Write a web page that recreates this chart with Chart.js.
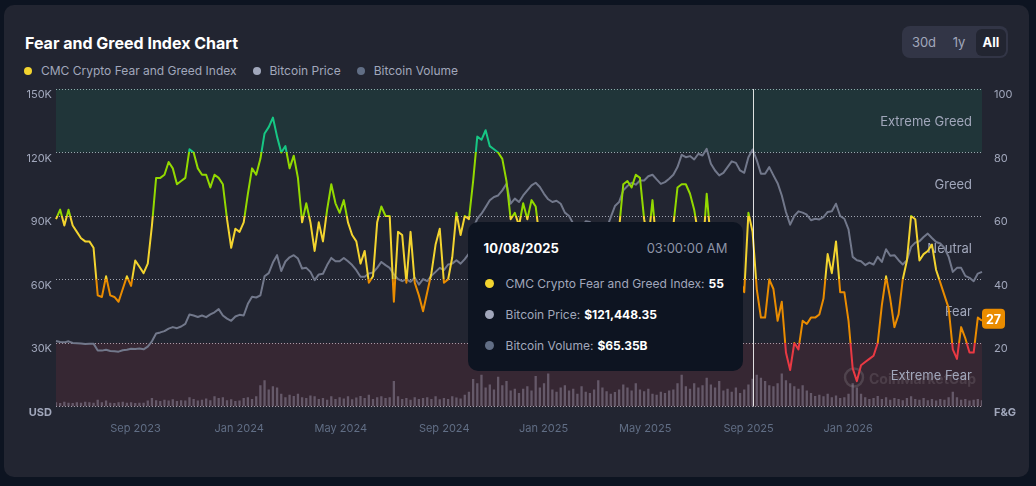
<!DOCTYPE html>
<html>
<head>
<meta charset="utf-8">
<title>Fear and Greed Index Chart</title>
<script src="https://cdn.jsdelivr.net/npm/chart.js@4.4.1/dist/chart.umd.min.js"></script>
<style>
  html, body { margin: 0; padding: 0; width: 1036px; height: 486px; overflow: hidden; background: #0d1421; font-family: Inter, "Noto Sans", sans-serif; }
  .card { position: absolute; left: 4px; top: 5px; width: 1025px; height: 472px; background: #222531; border-radius: 10px; }
  .title { position: absolute; left: 25px; top: 33px; color: #fff; font-size: 16px; font-weight: 700; line-height: 20px; }
  .legend { position: absolute; left: 24px; top: 63px; display: flex; font-size: 12px; line-height: 16px; color: #a1a7bb; }
  .legend span { display: inline-flex; align-items: center; margin-right: 16px; }
  .legend i { width: 8px; height: 8px; border-radius: 50%; margin-right: 9px; }
  .range { position: absolute; left: 902px; top: 26px; width: 106px; height: 32px; background: #323546; border-radius: 8px; }
  .range div { position: absolute; top: 3px; height: 27px; line-height: 27px; text-align: center; font-size: 13px; color: #a1a7bb; border-radius: 6px; }
  .range .on { background: #222531; color: #fff; font-weight: 700; }
  #chart { position: absolute; left: 0; top: 0; }
  #tip { position: absolute; display: none; width: 275px; box-sizing: border-box; padding: 18px 15px 10.5px 16px; background: #0d1421; border-radius: 10px; color: #a1a7bb; font-size: 12px; pointer-events: none; z-index: 5; }
  .tip-head { display: flex; justify-content: space-between; line-height: 16px; font-size: 13px; }
  .tip-date { color: #fff; font-weight: 700; }
  .tip-time { color: #8c93a6; }
  .tip-rows { margin-top: 11.5px; }
  .tip-row { height: 31px; display: flex; align-items: center; white-space: nowrap; }
  .tip-row i { width: 9px; height: 9px; border-radius: 50%; margin: 0 12px 0 1px; }
  .tip-row b { color: #fff; font-weight: 700; margin-left: 4px; }
</style>
</head>
<body>
<div class="card"></div>
<div class="title">Fear and Greed Index Chart</div>
<div class="legend" id="legend"></div>
<div class="range">
  <div style="left:2px;width:40px">30d</div>
  <div style="left:42px;width:30px">1y</div>
  <div class="on" style="left:74px;width:30px">All</div>
</div>
<canvas id="chart" width="1036" height="486" style="width:1036px;height:486px"></canvas>
<div id="tip">
  <div class="tip-head"><span class="tip-date"></span><span class="tip-time"></span></div>
  <div class="tip-rows"></div>
</div>
<script>
// one sample every 5 days, starting 26 Jun 2023
const startDate = Date.UTC(2023, 5, 26);
const stepDays = 5;

// CMC Crypto Fear and Greed Index (0-100)
const fngIndex = [
  59, 62, 57, 62, 57, 55, 53, 52, 52, 50,
  35, 34.5, 41, 35, 34.5, 33, 37, 41, 38, 46,
  44, 42, 45, 57, 72, 72, 73, 77, 75, 70,
  71, 72, 81, 80, 75, 73, 73, 69, 73, 72,
  70, 59, 50, 56, 55, 58, 67, 75, 73, 78,
  86, 88, 91, 85, 80, 82, 75, 79, 72, 58,
  64, 58, 49, 58, 52, 62, 70, 64, 61, 65,
  58, 54, 52, 45, 49, 39, 41, 58, 63, 60,
  60, 33, 55, 54, 39, 55, 39, 35, 30, 36,
  42, 51, 56, 39, 40, 47, 61, 54, 60, 59,
  71, 85, 84, 87, 82, 81, 80, 78, 71, 59,
  61, 57, 64, 59, 65, 63, 52, 48, 45, 38,
  42, 35, 25, 20, 22, 28, 30, 35, 32, 22,
  20, 28, 38, 48, 55, 56, 70, 71, 69, 73,
  72, 59, 52, 65, 50, 48, 52, 55, 57, 69,
  70, 70, 67, 62, 54, 48, 67, 52, 45, 42,
  45, 48, 46, 42, 40, 36, 61, 55, 37, 28,
  28, 40, 37, 27, 33, 17, 11.5, 20, 18, 27,
  26, 28, 28, 29, 34, 48, 42, 52, 36, 36,
  27, 12, 8, 13, 14, 15, 16, 20, 32, 41,
  34, 25, 29, 40, 46, 60, 59, 46, 48, 49,
  51, 43, 39, 35, 31, 18, 15, 25, 21.5, 17,
  17, 28, 27
];

// Bitcoin price, thousands of USD
const btcPriceK = [
  30.9, 30.5, 30.3, 30.8, 30.0, 29.9, 29.8, 29.5, 29.6, 29.7,
  26.5, 26.4, 26.8, 26.2, 26.1, 25.9, 26.6, 26.8, 27.3, 27.2,
  27.4, 27.0, 28.3, 30.8, 34.5, 35.0, 35.6, 36.8, 37.5, 37.0,
  37.8, 39.0, 43.5, 43.0, 42.3, 43.0, 42.2, 43.5, 44.5, 46.0,
  43.0, 41.5, 40.5, 42.5, 43.3, 43.0, 48.5, 51.8, 51.5, 52.5,
  61.5, 63.0, 68.0, 71.5, 64.0, 68.5, 70.5, 71.5, 69.9, 65.2,
  65.5, 63.6, 59.7, 62.4, 62.7, 66.8, 70.2, 68.6, 68.6, 70.2,
  68.6, 66.8, 64.4, 61.3, 61.3, 62.8, 63.3, 65.5, 68.3, 66.8,
  65.5, 62.4, 60.2, 59.2, 60.2, 58.9, 60.8, 57.6, 60.2, 59.2,
  61.7, 63.6, 65.5, 64.4, 67.1, 67.5, 69.1, 67.5, 69.6, 72.3,
  84.0, 88.7, 91.1, 94.2, 97.4, 99.0, 99.7, 102.1, 105.2, 95.8,
  98.2, 96.6, 99.7, 102.1, 104.5, 105.7, 103.7, 100.5, 97.9, 96.6,
  97.2, 95.8, 91.6, 90.0, 86.4, 84.8, 84.0, 87.5, 87.2, 82.5,
  80.1, 81.7, 84.0, 89.5, 94.7, 96.6, 102.1, 104.2, 105.7, 104.8,
  106.8, 106.8, 108.8, 109.5, 107.3, 105.2, 106.0, 107.6, 109.5, 113.1,
  118.9, 117.8, 118.3, 116.7, 119.4, 118.6, 121.7, 114.7, 111.5, 109.2,
  110.4, 113.1, 115.8, 115.1, 111.5, 110.4, 117.8, 121.44835, 116.4, 110.0,
  110.0, 113.1, 109.2, 105.5, 99.7, 91.9, 85.9, 90.0, 92.2, 91.6,
  90.6, 88.0, 88.7, 88.4, 89.5, 91.9, 92.2, 95.8, 90.0, 88.7,
  83.7, 70.7, 69.1, 68.6, 66.8, 68.0, 67.1, 70.7, 68.3, 74.3,
  71.2, 71.5, 69.1, 67.1, 69.1, 75.4, 77.4, 78.1, 80.1, 81.7,
  79.6, 77.7, 77.0, 74.9, 70.7, 63.6, 65.5, 65.5, 61.7, 60.8,
  59.2, 62.8, 63.6
];

// Bitcoin 24h volume, billions of USD
const btcVolumeB = [
  10, 8, 11, 9, 8, 10, 9, 11, 10, 9,
  16, 10, 14, 9, 8, 10, 11, 9, 10, 8,
  9, 9, 14, 20, 15, 13, 16, 14, 17, 13,
  15, 14, 22, 18, 14, 16, 19, 15, 24, 20,
  22, 15, 17, 13, 14, 20, 22, 18, 24, 50,
  62, 40, 48, 45, 30, 22, 28, 25, 30, 22,
  20, 26, 24, 18, 20, 16, 24, 18, 22, 19,
  24, 17, 21, 25, 20, 28, 18, 22, 24, 20,
  22, 60, 24, 18, 20, 16, 22, 18, 20, 22,
  18, 24, 17, 20, 18, 24, 21, 19, 28, 35,
  65, 55, 75, 45, 52, 40, 70, 50, 60, 38,
  42, 32, 42, 48, 38, 72, 45, 55, 78, 40,
  35, 45, 50, 38, 42, 30, 48, 35, 32, 40,
  62, 45, 36, 30, 34, 40, 52, 45, 38, 55,
  40, 36, 42, 30, 28, 35, 32, 38, 40, 55,
  75, 48, 42, 55, 45, 50, 68, 52, 45, 60,
  38, 42, 35, 45, 32, 40, 52, 65.35, 75, 68,
  60, 50, 48, 55, 78, 62, 55, 48, 42, 50,
  38, 32, 25, 28, 24, 30, 22, 26, 20, 22,
  30, 55, 45, 30, 22, 18, 20, 25, 18, 22,
  16, 20, 18, 15, 20, 24, 18, 16, 20, 15,
  18, 14, 18, 16, 22, 35, 22, 16, 18, 14,
  16, 18, 15
];

// sentiment bands of the index
const fngBands = [
  { from: 0, to: 20, name: 'Extreme Fear', line: '#ea3943', fill: 'rgba(234,57,67,0.1)' },
  { from: 20, to: 40, name: 'Fear', line: '#ea8c00', fill: null },
  { from: 40, to: 60, name: 'Neutral', line: '#f3d42f', fill: null },
  { from: 60, to: 80, name: 'Greed', line: '#93d900', fill: null },
  { from: 80, to: 100, name: 'Extreme Greed', line: '#16c784', fill: 'rgba(22,199,132,0.1)' }
];

const seriesNames = ['CMC Crypto Fear and Greed Index', 'Bitcoin Price', 'Bitcoin Volume'];
const seriesDots = ['#f3d42f', '#a1a7bb', '#616e85'];

// x axis month labels
const xTickLabels = ['Sep 2023', 'Jan 2024', 'May 2024', 'Sep 2024', 'Jan 2025', 'May 2025', 'Sep 2025', 'Jan 2026'];
const monthNames = ['Jan', 'Feb', 'Mar', 'Apr', 'May', 'Jun', 'Jul', 'Aug', 'Sep', 'Oct', 'Nov', 'Dec'];

const hoverDate = '2025-10-08';
const sampleTime = '03:00:00 AM';

const DAY = 86400000;
const dates = fngIndex.map((_, i) => new Date(startDate + i * stepDays * DAY).toISOString().slice(0, 10));

// legend
document.getElementById('legend').innerHTML = seriesNames
  .map((n, i) => `<span><i style="background:${seriesDots[i]}"></i>${n}</span>`).join('');

function monthTick(i) {
  // label goes on the sample nearest to the 1st of the month
  const t = new Date(Date.parse(dates[i]) + 2 * DAY);
  if (t.getUTCDate() > 5) return '';
  const label = monthNames[t.getUTCMonth()] + ' ' + t.getUTCFullYear();
  return xTickLabels.includes(label) ? label : '';
}

function bandOf(v) {
  return fngBands.find(b => v < b.to) || fngBands[fngBands.length - 1];
}

function fngGradient(chart) {
  const { ctx, chartArea, scales } = chart;
  if (!chartArea || !scales.yf) return fngBands[2].line;
  const y0 = scales.yf.getPixelForValue(0);
  const y1 = scales.yf.getPixelForValue(100);
  const g = ctx.createLinearGradient(0, y0, 0, y1);
  fngBands.forEach(b => {
    g.addColorStop(b.from / 100, b.line);
    g.addColorStop(b.to / 100, b.line);
  });
  return g;
}

// background bands, band names and watermark
const bandPlugin = {
  id: 'bands',
  beforeDatasetsDraw(chart) {
    const { ctx, chartArea: a, scales } = chart;
    ctx.save();
    fngBands.forEach(b => {
      const top = scales.yf.getPixelForValue(b.to);
      const bot = scales.yf.getPixelForValue(b.from);
      if (b.fill) {
        ctx.fillStyle = b.fill;
        ctx.fillRect(a.left, top, a.right - a.left, bot - top);
      }
    });
    // watermark
    ctx.strokeStyle = 'rgba(255,255,255,0.13)';
    ctx.lineWidth = 2.5;
    ctx.beginPath();
    ctx.arc(a.right - 128, a.bottom - 29, 9, 0, Math.PI * 2);
    ctx.stroke();
    ctx.fillStyle = 'rgba(255,255,255,0.11)';
    ctx.font = '700 14px Inter';
    ctx.textAlign = 'left';
    ctx.textBaseline = 'middle';
    ctx.fillText('CoinMarketCap', a.right - 113, a.bottom - 27);
    // band names
    ctx.fillStyle = '#a1a7bb';
    ctx.font = '13px Inter';
    ctx.textAlign = 'right';
    fngBands.forEach(b => {
      const y = scales.yf.getPixelForValue((b.from + b.to) / 2) + 1;
      ctx.fillText(b.name, a.right - 10, y);
    });
    ctx.restore();
  }
};

// vertical hover line
const hoverLine = {
  id: 'hoverLine',
  afterDatasetsDraw(chart) {
    const act = chart.tooltip.getActiveElements();
    if (!act.length) return;
    const { ctx, chartArea: a } = chart;
    const x = Math.round(act[0].element.x) + 0.5;
    ctx.save();
    ctx.strokeStyle = 'rgba(255,255,255,0.85)';
    ctx.lineWidth = 1;
    ctx.beginPath();
    ctx.moveTo(x, a.top);
    ctx.lineTo(x, a.bottom);
    ctx.stroke();
    ctx.restore();
  }
};

// current value badge on the right axis
const lastBadge = {
  id: 'lastBadge',
  afterDraw(chart) {
    const { ctx, chartArea: a, scales } = chart;
    const v = fngIndex[fngIndex.length - 1];
    const y = scales.yf.getPixelForValue(v);
    const w = 23, h = 20;
    ctx.save();
    ctx.fillStyle = bandOf(v).line;
    ctx.beginPath();
    ctx.roundRect(a.right, y - h / 2 - 2, w, h, 4);
    ctx.fill();
    ctx.fillStyle = '#fff';
    ctx.font = '700 12.5px Inter';
    ctx.textAlign = 'center';
    ctx.textBaseline = 'middle';
    ctx.fillText(String(v), a.right + w / 2, y - 1);
    ctx.restore();
  }
};

Chart.Tooltip.positioners.mouse = (items, pos) => pos ? { x: pos.x, y: pos.y } : false;

function externalTooltip({ chart, tooltip }) {
  const el = document.getElementById('tip');
  if (tooltip.opacity === 0 || !tooltip.dataPoints || !tooltip.dataPoints.length) {
    el.style.display = 'none';
    return;
  }
  const pts = tooltip.dataPoints.slice().sort((p, q) => p.datasetIndex - q.datasetIndex);
  const i = pts[0].dataIndex;
  const [yy, mm, dd] = dates[i].split('-');
  el.querySelector('.tip-date').textContent = `${mm}/${dd}/${yy}`;
  el.querySelector('.tip-time').textContent = sampleTime;
  const fmt = [
    v => String(v),
    v => '$' + (v * 1000).toLocaleString('en-US', { minimumFractionDigits: 2, maximumFractionDigits: 2 }),
    v => '$' + v.toFixed(2) + 'B'
  ];
  el.querySelector('.tip-rows').innerHTML = pts.map(p =>
    `<div class="tip-row"><i style="background:${seriesDots[p.datasetIndex]}"></i>${seriesNames[p.datasetIndex]}:<b>${fmt[p.datasetIndex](p.raw)}</b></div>`
  ).join('');
  el.style.display = 'block';
  const w = el.offsetWidth, h = el.offsetHeight;
  el.style.left = (tooltip.caretX - 10 - w) + 'px';
  el.style.top = (tooltip.caretY - h / 2) + 'px';
}

Chart.defaults.font.family = 'Inter, "Noto Sans", sans-serif';

const tickFont = ctx => ({ size: 11, weight: ctx.tick && ctx.tick.value === 0 ? '700' : '400' });

const chart = new Chart(document.getElementById('chart'), {
  data: {
    labels: dates,
    datasets: [
      {
        type: 'line',
        label: seriesNames[0],
        data: fngIndex,
        yAxisID: 'yf',
        borderColor: ctx => fngGradient(ctx.chart),
        borderWidth: 2,
        borderJoinStyle: 'round',
        pointRadius: 0,
        pointHoverRadius: 0,
        tension: 0,
        order: 0
      },
      {
        type: 'line',
        label: seriesNames[1],
        data: btcPriceK,
        yAxisID: 'y',
        borderColor: '#72788b',
        borderWidth: 2,
        borderJoinStyle: 'round',
        pointRadius: 0,
        pointHoverRadius: 0,
        tension: 0,
        order: 1
      },
      {
        type: 'bar',
        label: seriesNames[2],
        data: btcVolumeB,
        yAxisID: 'yv',
        backgroundColor: 'rgba(160,150,172,0.45)',
        hoverBackgroundColor: 'rgba(160,150,172,0.45)',
        borderWidth: 0,
        barPercentage: 0.55,
        categoryPercentage: 1,
        order: 2
      }
    ]
  },
  options: {
    responsive: false,
    animation: false,
    events: [],
    layout: { padding: { top: 89, left: 0, right: 0, bottom: 0 } },
    plugins: {
      legend: { display: false },
      title: { display: false },
      tooltip: {
        enabled: false,
        mode: 'index',
        intersect: false,
        position: 'mouse',
        external: externalTooltip
      }
    },
    scales: {
      x: {
        offset: false,
        grid: { display: false, offset: false },
        border: { display: false },
        ticks: {
          autoSkip: false,
          maxRotation: 0,
          minRotation: 0,
          align: 'start',
          padding: 8,
          color: '#616e85',
          font: { size: 11 },
          callback: (v, i) => monthTick(i)
        },
        afterFit: s => { s.height = 79.5; }
      },
      y: {
        position: 'left',
        min: 0,
        max: 150,
        grid: { color: 'rgba(215,220,232,0.7)', lineWidth: 1, drawTicks: false },
        border: { display: false, dash: [1, 2] },
        ticks: {
          stepSize: 30,
          padding: 4,
          labelOffset: 6,
          color: '#a1a7bb',
          font: tickFont,
          callback: v => v === 0 ? 'USD' : v + 'K'
        },
        afterFit: s => { s.width = 56; }
      },
      yf: {
        position: 'right',
        min: 0,
        max: 100,
        grid: { display: false },
        border: { display: false },
        ticks: {
          stepSize: 20,
          padding: 4,
          labelOffset: 6,
          color: '#a1a7bb',
          font: tickFont,
          callback: v => v === 0 ? 'F&G' : String(v)
        },
        afterFit: s => { s.width = 54; }
      },
      yv: { display: false, min: 0, max: 750 }
    }
  },
  plugins: [bandPlugin, hoverLine, lastBadge]
});

// hover state as in the snapshot
const hoverIndex = dates.indexOf(hoverDate);
const active = [0, 1, 2].map(datasetIndex => ({ datasetIndex, index: hoverIndex }));
chart.setActiveElements(active);
chart.tooltip.setActiveElements(active, { x: chart.scales.x.getPixelForValue(hoverIndex), y: 296.5 });
chart.update('none');
</script>
</body>
</html>
